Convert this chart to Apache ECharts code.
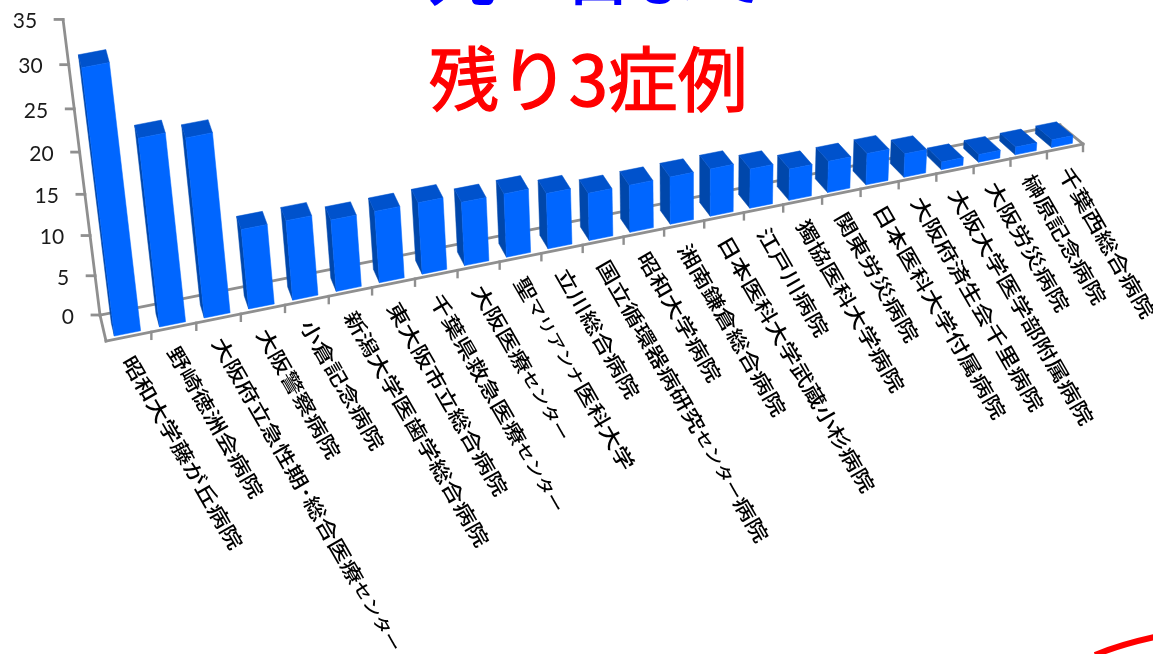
<!DOCTYPE html>
<html><head><meta charset="utf-8">
<style>html,body{margin:0;padding:0;background:#fff}#c{width:1153px;height:654px}</style>
<script src="https://cdn.jsdelivr.net/npm/echarts@6/dist/echarts.min.js"></script>
</head><body><div id="c"></div>
<script>
const categories = ['昭和大学藤が丘病院','野崎徳洲会病院','大阪府立急性期･総合医療センター','大阪警察病院','小倉記念病院','新潟大学医歯学総合病院','東大阪市立総合病院','千葉県救急医療センター','大阪医療センター','聖マリアンナ医科大学','立川総合病院','国立循環器病研究センター病院','昭和大学病院','湘南鎌倉総合病院','日本医科大学武蔵小杉病院','江戸川病院','獨協医科大学病院','関東労災病院','日本医科大学付属病院','大阪府済生会千里病院','大阪大学医学部附属病院','大阪労災病院','榊原記念病院','千葉西総合病院'];
const values = [32,23,22,10,10,9,9,9,8,8,7,6,6,6,6,5,4,4,4,3,1,1,1,1];
const tickValues = [0,5,10,15,20,25,30,35];
const titleRed = '残り3症例';
const titleBlue = '九一日まで';

const GRID = {left:106, top:20, width:977, height:295};
const chart = echarts.init(document.getElementById('c'), null, {renderer:'canvas'});

// Perspective view of the library's plain grid coordinates
function project(api, k, depth, v){
  const p = api.coord([k, v]), z = api.coord([k, 0]);
  const u = p[0] - GRID.left;
  const xf = 106 + 1.1192*u - 0.000122*u*u;
  const yf = 341 - 0.2016*(xf-106);
  const xb = 100 + (xf-106)*0.9826;
  const yb = 315 - 0.1979*(xb-100);
  const x0 = xf + (xb-xf)*depth, y0 = yf + (yb-yf)*depth;
  const hl = z[1] - p[1];
  const h = 0.919*hl + 0.000281*hl*hl;
  return [x0 + (x0-700)*h/4800, y0 - h];
}
const GRAY = '#8f8f8f';
const FONT = '"Noto Sans CJK JP","Noto Sans CJK SC",sans-serif';
function line(a,b,w){return {type:'line',shape:{x1:a[0],y1:a[1],x2:b[0],y2:b[1]},style:{stroke:GRAY,lineWidth:w||2.8,lineCap:'square'}};}
function poly(points,fill){return {type:'polygon',shape:{points},style:{fill,stroke:fill,lineWidth:0.5}};}
function richLabel(s){return s.replace(/([ァ-ヶー]+)/g,'{k|$1}');}

const option = {
  animation:false,
  backgroundColor:'#fff',
  grid:{left:GRID.left, top:GRID.top, width:GRID.width, height:GRID.height},
  xAxis:{type:'value',min:0,max:24,show:false},
  yAxis:{type:'value',min:0,max:35,interval:5,show:false},
  graphic:[
    {type:'text',x:429,y:114,style:{text:titleRed,fill:'#ff0000',stroke:'#ff0000',lineWidth:1.4,fontSize:70,fontFamily:FONT,fontWeight:400,align:'left',verticalAlign:'bottom'},z:10},
    {type:'text',x:428,y:8,style:{text:titleBlue,fill:'#0000ff',fontSize:68,fontFamily:FONT,fontWeight:500,align:'left',verticalAlign:'bottom'},z:10},
    {type:'bezierCurve',shape:{x1:1095,y1:655,cpx1:1112,cpy1:648,cpx2:1132,cpy2:642,x2:1155,y2:637},style:{stroke:'#ff0000',lineWidth:6,fill:null},z:10}
  ],
  series:[
    { // frame, floor lines, axis
      type:'custom',coordinateSystem:'cartesian2d',clip:false,silent:true,z:1,
      data:[[0,0]],
      renderItem(params,api){
        const BL=project(api,0,1,0), TL=project(api,0,1,35), FL=project(api,0,0,0), FR=project(api,24,0,0), BR=project(api,24,1,0);
        return {type:'group',children:[line(BL,TL),line(BL,FL),line(BL,BR),line(FL,FR),line(BR,FR)]};
      }
    },
    { // value ticks and labels
      type:'custom',coordinateSystem:'cartesian2d',clip:false,z:2,
      data:tickValues.map(v=>[0,v]),
      renderItem(params,api){
        const v=api.value(1), p=project(api,0,1,v);
        return {type:'group',children:[
          line([p[0]-8,p[1]],p),
          {type:'text',x:p[0]-26,y:p[1]+2,style:{text:String(v),fill:'#1a1a1a',fontSize:21,fontFamily:'Lato,sans-serif',align:'right',verticalAlign:'middle'}}
        ]};
      }
    },
    { // category ticks and labels
      type:'custom',coordinateSystem:'cartesian2d',clip:false,z:2,
      data:categories.map((c,i)=>[i,i]),
      renderItem(params,api){
        const i=api.value(0), t=project(api,i+1,0,0), m=project(api,i+0.5,0,0);
        return {type:'group',children:[
          line(t,[t[0],t[1]+7],2.4),
          {type:'text',x:m[0]-1,y:m[1]+21,rotation:-60*Math.PI/180,scaleX:1.22,
           style:{text:richLabel(categories[i]),fill:'#000',fontSize:20,fontFamily:FONT,fontWeight:500,align:'left',verticalAlign:'middle',
             rich:{k:{fontSize:16,fontFamily:FONT,fontWeight:500,fill:'#000'}}}}
        ]};
      }
    },
    { // bars
      type:'custom',coordinateSystem:'cartesian2d',clip:false,z:3,
      data:values.map((v,i)=>[i,v]),
      renderItem(params,api){
        const i=api.value(0), v=api.value(1);
        const k0=i+0.2,k1=i+0.78,d0=0.12,d1=0.62+0.22*i/23;
        const a=project(api,k0,d0,0),b=project(api,k1,d0,0);
        const at=project(api,k0,d0,v),bt=project(api,k1,d0,v);
        const ab=project(api,k0,d1,0),abt=project(api,k0,d1,v),bbt=project(api,k1,d1,v);
        return {type:'group',children:[
          poly([a,ab,abt,at],'#0047ab'),
          poly([at,abt,bbt,bt],'#0052cc'),
          poly([a,b,bt,at],'#0066ff')
        ]};
      }
    }
  ]
};
chart.setOption(option);
</script></body></html>
